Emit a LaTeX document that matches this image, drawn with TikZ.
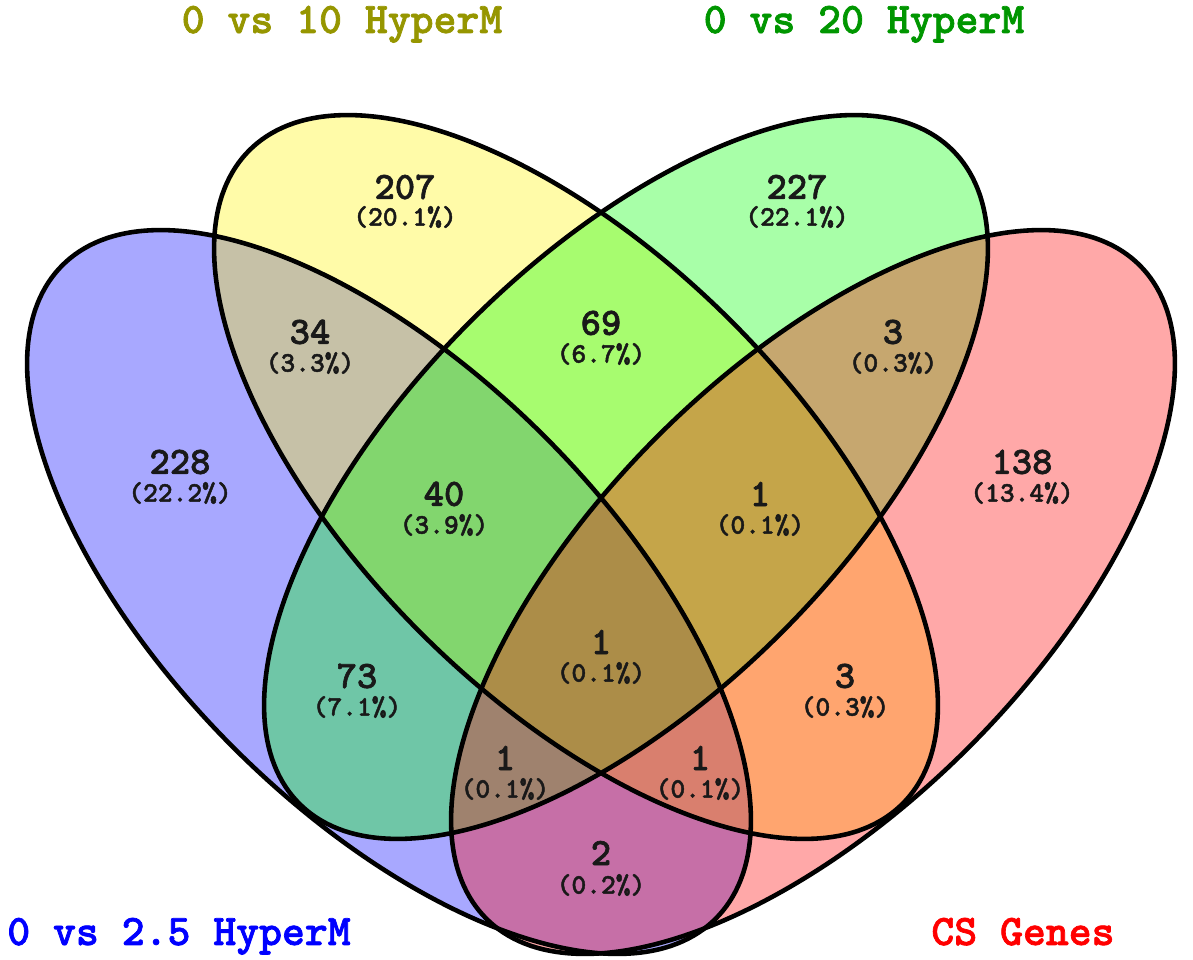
\documentclass[tikz,border=0pt]{standalone}
\usepackage{fontspec}
\newfontfamily\vennfont{lmmonolt10-bold}[Extension=.otf,FakeBold=1.6]
\definecolor{lblolive}{RGB}{150,150,0}
\definecolor{lblgreen}{RGB}{0,150,0}
\begin{document}
\begin{tikzpicture}[x=0.01cm,y=0.01cm,
  setfill/.style={fill opacity=0.34},
  outline/.style={draw=black,line width=1.3pt},
  num/.style={inner sep=0pt,font=\vennfont\fontsize{11}{12}\selectfont,text=black!90},
  pct/.style={inner sep=0pt,font=\vennfont\fontsize{8}{9}\selectfont,text=black!90},
  setlabel/.style={inner sep=0pt,anchor=base,font=\vennfont\fontsize{12.4}{14}\selectfont}]
\useasboundingbox (0,0) rectangle (1193,960);

% centres of the four ellipses
\coordinate (cA) at (389,368);
\coordinate (cB) at (576,483);
\coordinate (cC) at (626,483);
\coordinate (cD) at (813,368);

% translucent fills, drawn in set order
\fill[blue,setfill,rotate around={-45:(cA)}] (cA) ellipse (462 and 220);
\fill[yellow,setfill,rotate around={-45:(cB)}] (cB) ellipse (462 and 220);
\fill[green,setfill,rotate around={45:(cC)}] (cC) ellipse (462 and 220);
\fill[red,setfill,rotate around={45:(cD)}] (cD) ellipse (462 and 220);

% outlines
\draw[outline,rotate around={-45:(cA)}] (cA) ellipse (462 and 220);
\draw[outline,rotate around={-45:(cB)}] (cB) ellipse (462 and 220);
\draw[outline,rotate around={45:(cC)}] (cC) ellipse (462 and 220);
\draw[outline,rotate around={45:(cD)}] (cD) ellipse (462 and 220);

% region counts
\node[num] (nB) at (405,773) {207};   \node[pct] (pB) at (405,743) {(20.1\%)};
\node[num] (nC) at (797,773) {227};   \node[pct] (pC) at (797,743) {(22.1\%)};
\node[num] (nAB) at (310,628) {34};   \node[pct] (pAB) at (310,597) {(3.3\%)};
\node[num] (nBC) at (601,637) {69};   \node[pct] (pBC) at (601,606) {(6.7\%)};
\node[num] (nCD) at (893,628) {3};    \node[pct] (pCD) at (893,597) {(0.3\%)};
\node[num] (nA) at (180,498) {228};   \node[pct] (pA) at (180,467) {(22.2\%)};
\node[num] (nD) at (1022,498) {138};  \node[pct] (pD) at (1022,467) {(13.4\%)};
\node[num] (nABC) at (444,466) {40};  \node[pct] (pABC) at (444,435) {(3.9\%)};
\node[num] (nBCD) at (760,466) {1};   \node[pct] (pBCD) at (760,435) {(0.1\%)};
\node[num] (nABCD) at (601,318) {1};  \node[pct] (pABCD) at (601,287) {(0.1\%)};
\node[num] (nAC) at (357,284) {73};   \node[pct] (pAC) at (357,253) {(7.1\%)};
\node[num] (nBD) at (845,284) {3};    \node[pct] (pBD) at (845,253) {(0.3\%)};
\node[num] (nACD) at (505,202) {1};   \node[pct] (pACD) at (505,171) {(0.1\%)};
\node[num] (nABD) at (700,202) {1};   \node[pct] (pABD) at (700,171) {(0.1\%)};
\node[num] (nAD) at (601,107) {2};    \node[pct] (pAD) at (601,75) {(0.2\%)};

% set names
\node[setlabel,text=lblolive] (lB) at (342,927) {0 vs 10 HyperM};
\node[setlabel,text=lblgreen] (lC) at (864,927) {0 vs 20 HyperM};
\node[setlabel,text=blue] (lA) at (179,15) {0 vs 2.5 HyperM};
\node[setlabel,text=red] (lD) at (1023,15) {CS Genes};
\end{tikzpicture}
\end{document}
